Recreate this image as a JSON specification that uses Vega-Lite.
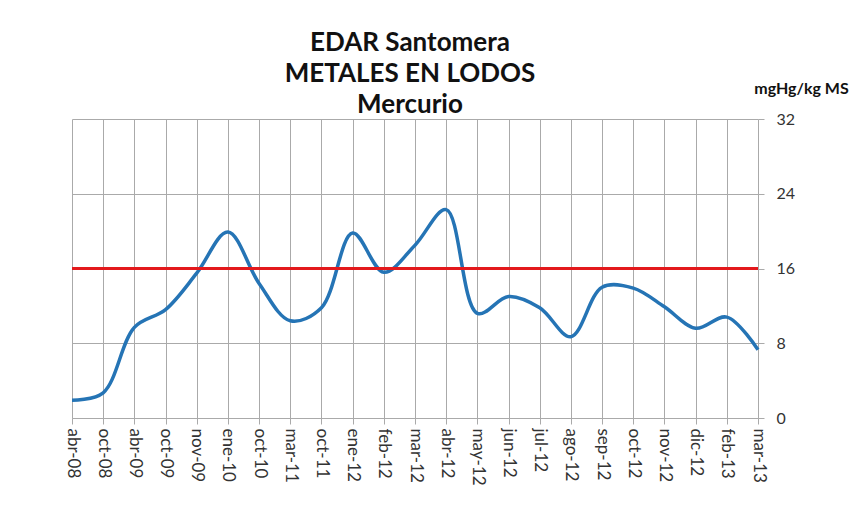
{
  "$schema": "https://vega.github.io/schema/vega-lite/v6.json",
  "autosize": "none",
  "width": 686,
  "height": 299,
  "padding": {"left": 72, "top": 119, "right": 106, "bottom": 96},
  "background": "white",
  "config": {
    "view": {"stroke": null},
    "font": "Lato"
  },
  "title": {
    "text": ["EDAR Santomera", "METALES EN LODOS", "Mercurio"],
    "font": "Lato",
    "fontSize": 26,
    "fontWeight": "bold",
    "color": "#111111",
    "lineHeight": 31,
    "anchor": "middle",
    "offset": 4,
    "dx": -5,
    "dy": 42
  },
  "data": {
    "values": [
      {"mes": "abr-08", "valor": 1.9},
      {"mes": "oct-08", "valor": 2.7},
      {"mes": "abr-09", "valor": 9.7},
      {"mes": "oct-09", "valor": 11.6},
      {"mes": "nov-09", "valor": 15.5},
      {"mes": "ene-10", "valor": 19.9},
      {"mes": "oct-10", "valor": 14.4},
      {"mes": "mar-11", "valor": 10.4},
      {"mes": "oct-11", "valor": 11.8},
      {"mes": "ene-12", "valor": 19.8},
      {"mes": "feb-12", "valor": 15.6},
      {"mes": "mar-12", "valor": 18.5},
      {"mes": "abr-12", "valor": 22.3},
      {"mes": "may-12", "valor": 11.2},
      {"mes": "jun-12", "valor": 13.0},
      {"mes": "jul-12", "valor": 11.8},
      {"mes": "ago-12", "valor": 8.7},
      {"mes": "sep-12", "valor": 14.0},
      {"mes": "oct-12", "valor": 13.9},
      {"mes": "nov-12", "valor": 11.9},
      {"mes": "dic-12", "valor": 9.6},
      {"mes": "feb-13", "valor": 10.8},
      {"mes": "mar-13", "valor": 7.3}
    ]
  },
  "layer": [
    {
      "mark": {"type": "line", "color": "#2574B5", "strokeWidth": 3.5, "interpolate": "catmull-rom"},
      "encoding": {
        "x": {
          "field": "mes",
          "type": "ordinal",
          "sort": null,
          "scale": {"type": "point", "padding": 0},
          "axis": {
            "title": null,
            "labelAngle": 90,
            "labelAlign": "left",
            "labelBaseline": "middle",
            "labelFontSize": 17,
            "labelColor": "#333333",
            "labelPadding": 4,
            "grid": true,
            "gridColor": "#aaaaaa",
            "gridWidth": 1,
            "ticks": true,
            "tickSize": 6,
            "tickColor": "#aaaaaa",
            "domainColor": "#aaaaaa"
          }
        },
        "y": {
          "field": "valor",
          "type": "quantitative",
          "scale": {"domain": [0, 32], "nice": false},
          "axis": {
            "orient": "right",
            "values": [0, 8, 16, 24, 32],
            "title": "mgHg/kg MS",
            "titleAngle": 0,
            "titleAlign": "center",
            "titleBaseline": "middle",
            "titleX": 43,
            "titleY": -31,
            "titleFont": "Lato",
            "titleFontSize": 16,
            "titleFontWeight": "bold",
            "titleColor": "#111111",
            "labelFontSize": 16,
            "labelColor": "#333333",
            "labelPadding": 12,
            "grid": true,
            "gridColor": "#aaaaaa",
            "ticks": true,
            "tickSize": 6,
            "tickColor": "#aaaaaa",
            "domain": false
          }
        }
      }
    },
    {
      "mark": {"type": "rule", "color": "#E3191C", "strokeWidth": 3},
      "encoding": {"y": {"datum": 16}}
    }
  ]
}
